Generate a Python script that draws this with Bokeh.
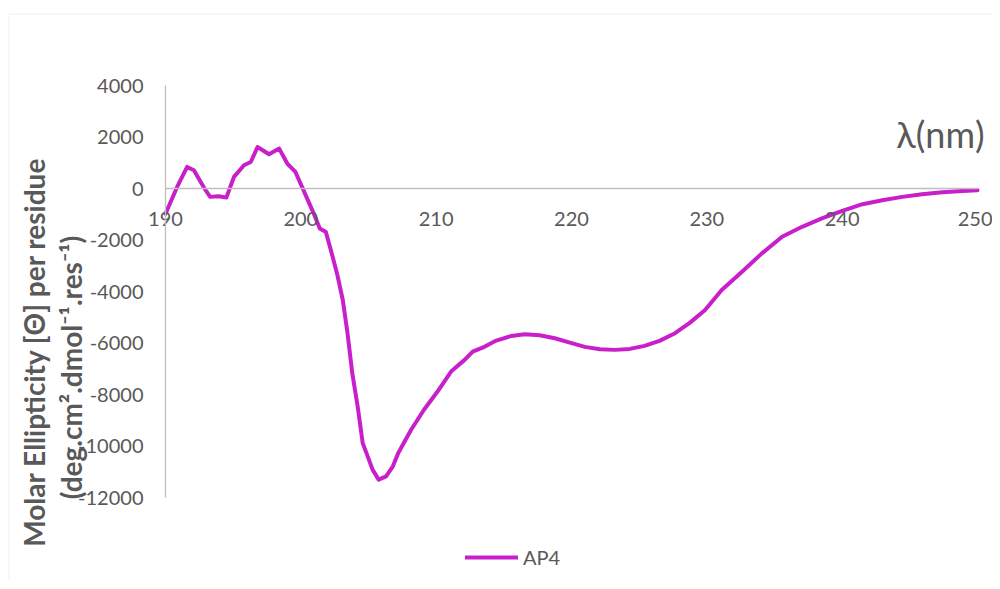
from bokeh.plotting import figure
from bokeh.models import FixedTicker, Label, Legend, LegendItem, BoxAnnotation, LinearAxis
from bokeh.embed import file_html
from bokeh.resources import INLINE
import math

# ---- data ----
wavelength = [190.0, 190.86, 191.6, 192.1, 192.6, 192.96, 193.3, 193.9, 194.5, 195.06,
              195.8, 196.3, 196.8, 197.65, 198.4, 199.0, 199.6, 200.25, 200.9, 201.4,
              201.85, 202.35, 202.7, 203.1, 203.45, 203.8, 204.2, 204.57, 204.94, 205.3,
              205.75, 206.3, 206.8, 207.2, 208.15, 209.1, 210.1, 211.1, 212.1, 212.7,
              213.6, 214.44, 215.56, 216.54, 217.65, 218.76, 219.88, 220.99, 222.1, 223.2,
              224.3, 225.4, 226.5, 227.65, 228.76, 229.87, 231.1, 232.6, 234.07, 235.56,
              237.04, 238.5, 240.0, 241.5, 242.96, 244.44, 245.9, 247.4, 248.9, 250.0]
ap4 = [-980, 60, 837, 710, 256, -66, -325, -298, -350, 450,
       903, 1031, 1612, 1329, 1550, 969, 643, -131, -907, -1550,
       -1690, -2650, -3360, -4330, -5620, -7170, -8465, -9884, -10403, -10918,
       -11306, -11177, -10790, -10272, -9368, -8593, -7884, -7109, -6655, -6333,
       -6140, -5906, -5725, -5660, -5698, -5814, -5984, -6151, -6241, -6267,
       -6229, -6112, -5919, -5620, -5209, -4717, -3942, -3232, -2520, -1876,
       -1488, -1163, -868, -609, -454, -325, -221, -143, -93, -66]
series_name = "AP4"
x_ticks = [190, 200, 210, 220, 230, 240, 250]
y_ticks = [4000, 2000, 0, -2000, -4000, -6000, -8000, -10000, -12000]
y_title_1 = "Molar Ellipticity [\u0398] per residue"
y_title_2 = "(deg.cm\u00b2.dmol\u207b\u00b9.res\u207b\u00b9)"
x_title = "\u03bb(nm)"

FONT = "Lato"
GRAY = "#595959"
AXIS = "#BFBFBF"
LINE = "#C91FCB"

W, H = 992, 581
# pixel anchors of the plot area (layout only)
PX_L, PX_R, PY_T, PY_B = 165, 977, 85, 497
X0, X1, Y0, Y1 = 190, 250, -12000, 4000
ux = (X1 - X0) / (PX_R - PX_L)
uy = (Y1 - Y0) / (PY_B - PY_T)

def dx(px):
    return X0 + (px - PX_L) * ux

def dy(py):
    return Y1 - (py - PY_T) * uy

p = figure(width=W, height=H, output_backend="svg", toolbar_location=None,
           x_range=(dx(0), dx(W)), y_range=(dy(H), dy(0)),
           x_axis_location=None, y_axis_location=None,
           min_border=0, min_border_left=0, min_border_right=0,
           min_border_top=0, min_border_bottom=0)
p.outline_line_color = None
p.xgrid.visible = False
p.ygrid.visible = False

# y axis at x = 190
ya = LinearAxis(fixed_location=X0, bounds=(Y0, Y1))
ya.ticker = FixedTicker(ticks=y_ticks)
ya.major_label_overrides = {v: str(v) for v in y_ticks}
ya.axis_line_color = AXIS
ya.axis_line_width = 1.3
ya.major_tick_line_color = None
ya.minor_tick_line_color = None
ya.major_tick_out = 0
ya.major_tick_in = 0
ya.major_label_standoff = 22
ya.major_label_text_font = FONT
ya.major_label_text_font_size = "20px"
ya.major_label_text_color = GRAY
p.add_layout(ya, "left")

# x axis crossing at y = 0
xa = LinearAxis(fixed_location=0, bounds=(X0, X1))
xa.ticker = FixedTicker(ticks=x_ticks)
xa.major_label_overrides = {v: str(v) for v in x_ticks}
xa.axis_line_color = AXIS
xa.axis_line_width = 1.3
xa.major_tick_line_color = None
xa.minor_tick_line_color = None
xa.major_tick_out = 0
xa.major_tick_in = 0
xa.major_label_standoff = 23
xa.major_label_text_font = FONT
xa.major_label_text_font_size = "20px"
xa.major_label_text_color = GRAY
p.add_layout(xa, "below")

r = p.line(wavelength, ap4, line_color=LINE, line_width=4, line_join="round", line_cap="round")

legend = Legend(items=[LegendItem(label=series_name, renderers=[r])],
                location=(465, H - 569), orientation="horizontal",
                padding=0, margin=0, spacing=0,
                glyph_width=53, glyph_height=20, label_height=20, label_standoff=5,
                label_text_font=FONT, label_text_font_size="20px",
                label_text_color=GRAY,
                border_line_color=None, background_fill_alpha=0)
p.add_layout(legend, "center")

# axis titles
p.add_layout(Label(x=dx(33), y=dy(352), text=y_title_1, angle=math.pi / 2,
                   text_align="center", text_baseline="middle",
                   text_font=FONT, text_font_style="bold", text_font_size="28px",
                   text_color=GRAY))
p.add_layout(Label(x=dx(70), y=dy(367), text=y_title_2, angle=math.pi / 2,
                   text_align="center", text_baseline="middle",
                   text_font=FONT, text_font_style="bold", text_font_size="28px",
                   text_color=GRAY))
p.add_layout(Label(x=dx(940), y=dy(133), text=x_title,
                   text_align="center", text_baseline="middle",
                   text_font=FONT, text_font_size="36px", text_color=GRAY))

# chart-area border
p.add_layout(BoxAnnotation(left=dx(8.5), right=dx(W + 50), top=dy(13.5), bottom=dy(H + 50),
                           fill_alpha=0, line_color="#D9D9D9", line_width=1.3))

open("out.html", "w").write(file_html(p, INLINE))
